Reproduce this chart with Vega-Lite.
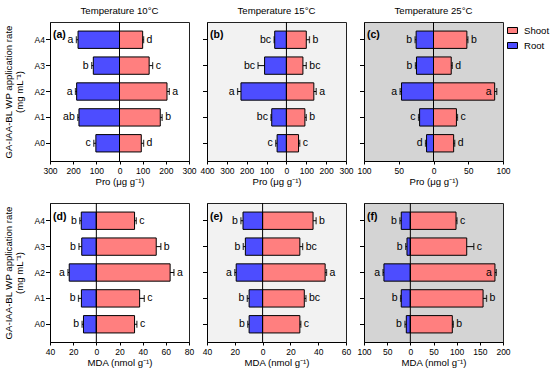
{
  "$schema": "https://vega.github.io/schema/vega-lite/v6.json",
  "padding": {"left": 2, "top": 5, "right": 2, "bottom": 2},
  "datasets": {
    "a": [
      {"rate": "A4", "tissue": "Root", "v": -179, "e": -186, "lab": "a"},
      {"rate": "A4", "tissue": "Shoot", "v": 100, "e": 104, "lab": "d"},
      {"rate": "A3", "tissue": "Root", "v": -113, "e": -120, "lab": "b"},
      {"rate": "A3", "tissue": "Shoot", "v": 128, "e": 143, "lab": "c"},
      {"rate": "A2", "tissue": "Root", "v": -185, "e": -190, "lab": "a"},
      {"rate": "A2", "tissue": "Shoot", "v": 205, "e": 215, "lab": "a"},
      {"rate": "A1", "tissue": "Root", "v": -175, "e": -180, "lab": "ab"},
      {"rate": "A1", "tissue": "Shoot", "v": 176, "e": 184, "lab": "b"},
      {"rate": "A0", "tissue": "Root", "v": -102, "e": -111, "lab": "c"},
      {"rate": "A0", "tissue": "Shoot", "v": 94, "e": 104, "lab": "d"}
    ],
    "b": [
      {"rate": "A4", "tissue": "Root", "v": -59, "e": -62, "lab": "bc"},
      {"rate": "A4", "tissue": "Shoot", "v": 100, "e": 116, "lab": "b"},
      {"rate": "A3", "tissue": "Root", "v": -110, "e": -143, "lab": "bc"},
      {"rate": "A3", "tissue": "Shoot", "v": 83, "e": 100, "lab": "bc"},
      {"rate": "A2", "tissue": "Root", "v": -229, "e": -246, "lab": "a"},
      {"rate": "A2", "tissue": "Shoot", "v": 138, "e": 150, "lab": "a"},
      {"rate": "A1", "tissue": "Root", "v": -74, "e": -78, "lab": "bc"},
      {"rate": "A1", "tissue": "Shoot", "v": 93, "e": 100, "lab": "b"},
      {"rate": "A0", "tissue": "Root", "v": -47, "e": -54, "lab": "c"},
      {"rate": "A0", "tissue": "Shoot", "v": 61, "e": 67, "lab": "c"}
    ],
    "c": [
      {"rate": "A4", "tissue": "Root", "v": -25, "e": -26.5, "lab": "b"},
      {"rate": "A4", "tissue": "Shoot", "v": 48, "e": 49.5, "lab": "b"},
      {"rate": "A3", "tissue": "Root", "v": -24.5, "e": -26, "lab": "b"},
      {"rate": "A3", "tissue": "Shoot", "v": 25.5, "e": 27, "lab": "d"},
      {"rate": "A2", "tissue": "Root", "v": -46, "e": -48, "lab": "a"},
      {"rate": "A2", "tissue": "Shoot", "v": 88, "e": 91, "lab": "a"},
      {"rate": "A1", "tissue": "Root", "v": -20, "e": -21.5, "lab": "c"},
      {"rate": "A1", "tissue": "Shoot", "v": 33, "e": 34.5, "lab": "c"},
      {"rate": "A0", "tissue": "Root", "v": -10, "e": -11.5, "lab": "d"},
      {"rate": "A0", "tissue": "Shoot", "v": 29, "e": 30.5, "lab": "d"}
    ],
    "d": [
      {"rate": "A4", "tissue": "Root", "v": -13, "e": -14.3, "lab": "b"},
      {"rate": "A4", "tissue": "Shoot", "v": 33, "e": 34.5, "lab": "c"},
      {"rate": "A3", "tissue": "Root", "v": -12.6, "e": -15, "lab": "b"},
      {"rate": "A3", "tissue": "Shoot", "v": 51.7, "e": 55.7, "lab": "b"},
      {"rate": "A2", "tissue": "Root", "v": -23.4, "e": -24.5, "lab": "a"},
      {"rate": "A2", "tissue": "Shoot", "v": 63.7, "e": 67, "lab": "a"},
      {"rate": "A1", "tissue": "Root", "v": -12.9, "e": -15.4, "lab": "b"},
      {"rate": "A1", "tissue": "Shoot", "v": 37.4, "e": 41.4, "lab": "c"},
      {"rate": "A0", "tissue": "Root", "v": -11.1, "e": -12.3, "lab": "b"},
      {"rate": "A0", "tissue": "Shoot", "v": 33, "e": 35, "lab": "c"}
    ],
    "e": [
      {"rate": "A4", "tissue": "Root", "v": -14.1, "e": -15.6, "lab": "b"},
      {"rate": "A4", "tissue": "Shoot", "v": 36.3, "e": 38.5, "lab": "b"},
      {"rate": "A3", "tissue": "Root", "v": -12.4, "e": -13.9, "lab": "b"},
      {"rate": "A3", "tissue": "Shoot", "v": 26.8, "e": 28.8, "lab": "bc"},
      {"rate": "A2", "tissue": "Root", "v": -19, "e": -20, "lab": "a"},
      {"rate": "A2", "tissue": "Shoot", "v": 45, "e": 46, "lab": "a"},
      {"rate": "A1", "tissue": "Root", "v": -9.7, "e": -11, "lab": "b"},
      {"rate": "A1", "tissue": "Shoot", "v": 30, "e": 31.2, "lab": "bc"},
      {"rate": "A0", "tissue": "Root", "v": -9.7, "e": -10.7, "lab": "b"},
      {"rate": "A0", "tissue": "Shoot", "v": 26.8, "e": 27.5, "lab": "c"}
    ],
    "f": [
      {"rate": "A4", "tissue": "Root", "v": -19.6, "e": -22.5, "lab": "b"},
      {"rate": "A4", "tissue": "Shoot", "v": 98.6, "e": 100.7, "lab": "c"},
      {"rate": "A3", "tissue": "Root", "v": -7.2, "e": -10, "lab": "b"},
      {"rate": "A3", "tissue": "Shoot", "v": 121.7, "e": 137, "lab": "c"},
      {"rate": "A2", "tissue": "Root", "v": -57, "e": -59, "lab": "a"},
      {"rate": "A2", "tissue": "Shoot", "v": 182.6, "e": 185.5, "lab": "a"},
      {"rate": "A1", "tissue": "Root", "v": -19.6, "e": -21, "lab": "b"},
      {"rate": "A1", "tissue": "Shoot", "v": 157, "e": 164.5, "lab": "b"},
      {"rate": "A0", "tissue": "Root", "v": -8.7, "e": -11.6, "lab": "b"},
      {"rate": "A0", "tissue": "Shoot", "v": 90.6, "e": 92.8, "lab": "b"}
    ]
  },
  "config": {
    "font": "Liberation Sans",
    "view": {"stroke": "#222222", "strokeWidth": 1},
    "axis": {"labelFontSize": 8.5, "titleFontSize": 9.6, "labelColor": "black", "titleColor": "black", "domainColor": "black", "tickColor": "black", "grid": false, "titleFontWeight": "normal", "labelOverlap": false, "labelFlush": false, "labelBound": false},
    "axisQuantitative": {"labelOverlap": false, "labelFlush": false},
    "axisX": {"tickSize": 3, "labelPadding": 2, "titlePadding": 2, "labelOverlap": false},
    "axisY": {"tickSize": 4.5, "labelPadding": 1, "titlePadding": 10, "titleLineHeight": 11},
    "title": {"fontSize": 9.6, "fontWeight": "normal", "offset": 6, "color": "black"},
    "text": {"fontSize": 10.5, "color": "black"}
  },
  "spacing": 15,
  "resolve": {"scale": {"color": "independent"}},
  "vconcat": [
    {
      "hconcat": [
        {
          "width": 139, "height": 139,
          "title": "Temperature 10°C",
          "view": {"fill": "white"},
          "data": {"name": "a"},
          "layer": [
            {"mark": {"type": "bar", "stroke": "black", "strokeWidth": 1}, "encoding": {"y": {"field": "rate", "type": "nominal", "sort": ["A4","A3","A2","A1","A0"], "scale": {"paddingInner": 0.33, "paddingOuter": 0.35}, "axis": {"title": ["GA-IAA-BL WP application rate", "(mg mL⁻¹)"], "labelOverlap": false}}, "x": {"field": "v", "type": "quantitative", "scale": {"domain": [-300, 300], "nice": false}, "axis": {"tickCount": 7, "labelOverlap": false, "labelFlush": false, "labelExpr": "format(abs(datum.value), 'd')", "title": "Pro (μg g⁻¹)"}}, "color": {"field": "tissue", "type": "nominal", "scale": {"domain": ["Shoot","Root"], "range": ["#FF7F7F","#4D4DFF"]}, "legend": null}}},
            {"mark": {"type": "rule", "color": "black"}, "encoding": {"y": {"field": "rate", "type": "nominal", "sort": ["A4","A3","A2","A1","A0"]}, "x": {"field": "v", "type": "quantitative"}, "x2": {"field": "e"}}},
            {"mark": {"type": "tick", "color": "black", "size": 7, "thickness": 1.3}, "encoding": {"y": {"field": "rate", "type": "nominal", "sort": ["A4","A3","A2","A1","A0"]}, "x": {"field": "e", "type": "quantitative"}}},
            {"data": {"values": [{}]}, "mark": {"type": "rule", "color": "black"}, "encoding": {"x": {"datum": 0}}},
            {"transform": [{"filter": "datum.tissue == 'Shoot'"}], "mark": {"type": "text", "align": "left", "dx": 3}, "encoding": {"y": {"field": "rate", "type": "nominal", "sort": ["A4","A3","A2","A1","A0"]}, "x": {"field": "e", "type": "quantitative"}, "text": {"field": "lab"}}},
            {"transform": [{"filter": "datum.tissue == 'Root'"}], "mark": {"type": "text", "align": "right", "dx": -3}, "encoding": {"y": {"field": "rate", "type": "nominal", "sort": ["A4","A3","A2","A1","A0"]}, "x": {"field": "e", "type": "quantitative"}, "text": {"field": "lab"}}},
            {"data": {"values": [{"t": "(a)"}]}, "mark": {"type": "text", "align": "left", "dx": 3, "dy": -5, "fontWeight": "bold", "fontSize": 10.5}, "encoding": {"x": {"datum": -300}, "y": {"datum": "A4", "type": "nominal"}, "text": {"field": "t"}}}
          ]
        },
        {
          "width": 139, "height": 139,
          "title": "Temperature 15°C",
          "view": {"fill": "#F2F2F2"},
          "data": {"name": "b"},
          "layer": [
            {"mark": {"type": "bar", "stroke": "black", "strokeWidth": 1}, "encoding": {"y": {"field": "rate", "type": "nominal", "sort": ["A4","A3","A2","A1","A0"], "scale": {"paddingInner": 0.33, "paddingOuter": 0.35}, "axis": {"title": null, "labels": false}}, "x": {"field": "v", "type": "quantitative", "scale": {"domain": [-400, 300], "nice": false}, "axis": {"tickCount": 7, "labelOverlap": false, "labelFlush": false, "labelExpr": "format(abs(datum.value), 'd')", "title": "Pro (μg g⁻¹)"}}, "color": {"field": "tissue", "type": "nominal", "scale": {"domain": ["Shoot","Root"], "range": ["#FF7F7F","#4D4DFF"]}, "legend": null}}},
            {"mark": {"type": "rule", "color": "black"}, "encoding": {"y": {"field": "rate", "type": "nominal", "sort": ["A4","A3","A2","A1","A0"]}, "x": {"field": "v", "type": "quantitative"}, "x2": {"field": "e"}}},
            {"mark": {"type": "tick", "color": "black", "size": 7, "thickness": 1.3}, "encoding": {"y": {"field": "rate", "type": "nominal", "sort": ["A4","A3","A2","A1","A0"]}, "x": {"field": "e", "type": "quantitative"}}},
            {"data": {"values": [{}]}, "mark": {"type": "rule", "color": "black"}, "encoding": {"x": {"datum": 0}}},
            {"transform": [{"filter": "datum.tissue == 'Shoot'"}], "mark": {"type": "text", "align": "left", "dx": 3}, "encoding": {"y": {"field": "rate", "type": "nominal", "sort": ["A4","A3","A2","A1","A0"]}, "x": {"field": "e", "type": "quantitative"}, "text": {"field": "lab"}}},
            {"transform": [{"filter": "datum.tissue == 'Root'"}], "mark": {"type": "text", "align": "right", "dx": -3}, "encoding": {"y": {"field": "rate", "type": "nominal", "sort": ["A4","A3","A2","A1","A0"]}, "x": {"field": "e", "type": "quantitative"}, "text": {"field": "lab"}}},
            {"data": {"values": [{"t": "(b)"}]}, "mark": {"type": "text", "align": "left", "dx": 3, "dy": -5, "fontWeight": "bold", "fontSize": 10.5}, "encoding": {"x": {"datum": -400}, "y": {"datum": "A4", "type": "nominal"}, "text": {"field": "t"}}}
          ]
        },
        {
          "width": 139, "height": 139,
          "title": "Temperature 25°C",
          "view": {"fill": "#D4D4D4"},
          "data": {"name": "c"},
          "layer": [
            {"mark": {"type": "bar", "stroke": "black", "strokeWidth": 1}, "encoding": {"y": {"field": "rate", "type": "nominal", "sort": ["A4","A3","A2","A1","A0"], "scale": {"paddingInner": 0.33, "paddingOuter": 0.35}, "axis": {"title": null, "labels": false}}, "x": {"field": "v", "type": "quantitative", "scale": {"domain": [-100, 100], "nice": false}, "axis": {"tickCount": 4, "labelOverlap": false, "labelFlush": false, "labelExpr": "format(abs(datum.value), 'd')", "title": "Pro (μg g⁻¹)"}}, "color": {"field": "tissue", "type": "nominal", "scale": {"domain": ["Shoot","Root"], "range": ["#FF7F7F","#4D4DFF"]}, "legend": {"orient": "none", "legendX": 143, "legendY": 3, "title": null, "symbolType": "M-1,-0.6H1V0.6H-1Z", "symbolSize": 100, "symbolStrokeColor": "black", "symbolStrokeWidth": 1, "labelFontSize": 9.6, "labelColor": "black", "rowPadding": 4, "padding": 0, "labelOffset": 6}}}},
            {"mark": {"type": "rule", "color": "black"}, "encoding": {"y": {"field": "rate", "type": "nominal", "sort": ["A4","A3","A2","A1","A0"]}, "x": {"field": "v", "type": "quantitative"}, "x2": {"field": "e"}}},
            {"mark": {"type": "tick", "color": "black", "size": 7, "thickness": 1.3}, "encoding": {"y": {"field": "rate", "type": "nominal", "sort": ["A4","A3","A2","A1","A0"]}, "x": {"field": "e", "type": "quantitative"}}},
            {"data": {"values": [{}]}, "mark": {"type": "rule", "color": "black"}, "encoding": {"x": {"datum": 0}}},
            {"transform": [{"filter": "datum.tissue == 'Shoot' && datum.e < 80"}], "mark": {"type": "text", "align": "left", "dx": 3}, "encoding": {"y": {"field": "rate", "type": "nominal", "sort": ["A4","A3","A2","A1","A0"]}, "x": {"field": "e", "type": "quantitative"}, "text": {"field": "lab"}}},
            {"transform": [{"filter": "datum.tissue == 'Shoot' && datum.e >= 80"}], "mark": {"type": "text", "align": "right", "dx": -3}, "encoding": {"y": {"field": "rate", "type": "nominal", "sort": ["A4","A3","A2","A1","A0"]}, "x": {"field": "v", "type": "quantitative"}, "text": {"field": "lab"}}},
            {"transform": [{"filter": "datum.tissue == 'Root'"}], "mark": {"type": "text", "align": "right", "dx": -3}, "encoding": {"y": {"field": "rate", "type": "nominal", "sort": ["A4","A3","A2","A1","A0"]}, "x": {"field": "e", "type": "quantitative"}, "text": {"field": "lab"}}},
            {"data": {"values": [{"t": "(c)"}]}, "mark": {"type": "text", "align": "left", "dx": 3, "dy": -5, "fontWeight": "bold", "fontSize": 10.5}, "encoding": {"x": {"datum": -100}, "y": {"datum": "A4", "type": "nominal"}, "text": {"field": "t"}}}
          ]
        }
      ],
      "spacing": 18,
      "bounds": "flush",
      "resolve": {"scale": {"color": "independent"}}
    },
    {
      "hconcat": [
        {
          "width": 139, "height": 139,
          "view": {"fill": "white"},
          "data": {"name": "d"},
          "layer": [
            {"mark": {"type": "bar", "stroke": "black", "strokeWidth": 1}, "encoding": {"y": {"field": "rate", "type": "nominal", "sort": ["A4","A3","A2","A1","A0"], "scale": {"paddingInner": 0.33, "paddingOuter": 0.35}, "axis": {"title": ["GA-IAA-BL WP application rate", "(mg mL⁻¹)"], "labelOverlap": false}}, "x": {"field": "v", "type": "quantitative", "scale": {"domain": [-40, 80], "nice": false}, "axis": {"tickCount": 6, "labelOverlap": false, "labelFlush": false, "labelExpr": "format(abs(datum.value), 'd')", "title": "MDA (nmol g⁻¹)"}}, "color": {"field": "tissue", "type": "nominal", "scale": {"domain": ["Shoot","Root"], "range": ["#FF7F7F","#4D4DFF"]}, "legend": null}}},
            {"mark": {"type": "rule", "color": "black"}, "encoding": {"y": {"field": "rate", "type": "nominal", "sort": ["A4","A3","A2","A1","A0"]}, "x": {"field": "v", "type": "quantitative"}, "x2": {"field": "e"}}},
            {"mark": {"type": "tick", "color": "black", "size": 7, "thickness": 1.3}, "encoding": {"y": {"field": "rate", "type": "nominal", "sort": ["A4","A3","A2","A1","A0"]}, "x": {"field": "e", "type": "quantitative"}}},
            {"data": {"values": [{}]}, "mark": {"type": "rule", "color": "black"}, "encoding": {"x": {"datum": 0}}},
            {"transform": [{"filter": "datum.tissue == 'Shoot'"}], "mark": {"type": "text", "align": "left", "dx": 3}, "encoding": {"y": {"field": "rate", "type": "nominal", "sort": ["A4","A3","A2","A1","A0"]}, "x": {"field": "e", "type": "quantitative"}, "text": {"field": "lab"}}},
            {"transform": [{"filter": "datum.tissue == 'Root'"}], "mark": {"type": "text", "align": "right", "dx": -3}, "encoding": {"y": {"field": "rate", "type": "nominal", "sort": ["A4","A3","A2","A1","A0"]}, "x": {"field": "e", "type": "quantitative"}, "text": {"field": "lab"}}},
            {"data": {"values": [{"t": "(d)"}]}, "mark": {"type": "text", "align": "left", "dx": 3, "dy": -4, "fontWeight": "bold", "fontSize": 10.5}, "encoding": {"x": {"datum": -40}, "y": {"datum": "A4", "type": "nominal"}, "text": {"field": "t"}}}
          ]
        },
        {
          "width": 139, "height": 139,
          "view": {"fill": "#F2F2F2"},
          "data": {"name": "e"},
          "layer": [
            {"mark": {"type": "bar", "stroke": "black", "strokeWidth": 1}, "encoding": {"y": {"field": "rate", "type": "nominal", "sort": ["A4","A3","A2","A1","A0"], "scale": {"paddingInner": 0.33, "paddingOuter": 0.35}, "axis": {"title": null, "labels": false}}, "x": {"field": "v", "type": "quantitative", "scale": {"domain": [-40, 60], "nice": false}, "axis": {"tickCount": 5, "labelOverlap": false, "labelFlush": false, "labelExpr": "format(abs(datum.value), 'd')", "title": "MDA (nmol g⁻¹)"}}, "color": {"field": "tissue", "type": "nominal", "scale": {"domain": ["Shoot","Root"], "range": ["#FF7F7F","#4D4DFF"]}, "legend": null}}},
            {"mark": {"type": "rule", "color": "black"}, "encoding": {"y": {"field": "rate", "type": "nominal", "sort": ["A4","A3","A2","A1","A0"]}, "x": {"field": "v", "type": "quantitative"}, "x2": {"field": "e"}}},
            {"mark": {"type": "tick", "color": "black", "size": 7, "thickness": 1.3}, "encoding": {"y": {"field": "rate", "type": "nominal", "sort": ["A4","A3","A2","A1","A0"]}, "x": {"field": "e", "type": "quantitative"}}},
            {"data": {"values": [{}]}, "mark": {"type": "rule", "color": "black"}, "encoding": {"x": {"datum": 0}}},
            {"transform": [{"filter": "datum.tissue == 'Shoot'"}], "mark": {"type": "text", "align": "left", "dx": 3}, "encoding": {"y": {"field": "rate", "type": "nominal", "sort": ["A4","A3","A2","A1","A0"]}, "x": {"field": "e", "type": "quantitative"}, "text": {"field": "lab"}}},
            {"transform": [{"filter": "datum.tissue == 'Root'"}], "mark": {"type": "text", "align": "right", "dx": -3}, "encoding": {"y": {"field": "rate", "type": "nominal", "sort": ["A4","A3","A2","A1","A0"]}, "x": {"field": "e", "type": "quantitative"}, "text": {"field": "lab"}}},
            {"data": {"values": [{"t": "(e)"}]}, "mark": {"type": "text", "align": "left", "dx": 3, "dy": -4, "fontWeight": "bold", "fontSize": 10.5}, "encoding": {"x": {"datum": -40}, "y": {"datum": "A4", "type": "nominal"}, "text": {"field": "t"}}}
          ]
        },
        {
          "width": 139, "height": 139,
          "view": {"fill": "#D4D4D4"},
          "data": {"name": "f"},
          "layer": [
            {"mark": {"type": "bar", "stroke": "black", "strokeWidth": 1}, "encoding": {"y": {"field": "rate", "type": "nominal", "sort": ["A4","A3","A2","A1","A0"], "scale": {"paddingInner": 0.33, "paddingOuter": 0.35}, "axis": {"title": null, "labels": false}}, "x": {"field": "v", "type": "quantitative", "scale": {"domain": [-100, 200], "nice": false}, "axis": {"tickCount": 6, "labelOverlap": false, "labelFlush": false, "labelExpr": "format(abs(datum.value), 'd')", "title": "MDA (nmol g⁻¹)"}}, "color": {"field": "tissue", "type": "nominal", "scale": {"domain": ["Shoot","Root"], "range": ["#FF7F7F","#4D4DFF"]}, "legend": null}}},
            {"mark": {"type": "rule", "color": "black"}, "encoding": {"y": {"field": "rate", "type": "nominal", "sort": ["A4","A3","A2","A1","A0"]}, "x": {"field": "v", "type": "quantitative"}, "x2": {"field": "e"}}},
            {"mark": {"type": "tick", "color": "black", "size": 7, "thickness": 1.3}, "encoding": {"y": {"field": "rate", "type": "nominal", "sort": ["A4","A3","A2","A1","A0"]}, "x": {"field": "e", "type": "quantitative"}}},
            {"data": {"values": [{}]}, "mark": {"type": "rule", "color": "black"}, "encoding": {"x": {"datum": 0}}},
            {"transform": [{"filter": "datum.tissue == 'Shoot' && datum.e < 175"}], "mark": {"type": "text", "align": "left", "dx": 3}, "encoding": {"y": {"field": "rate", "type": "nominal", "sort": ["A4","A3","A2","A1","A0"]}, "x": {"field": "e", "type": "quantitative"}, "text": {"field": "lab"}}},
            {"transform": [{"filter": "datum.tissue == 'Shoot' && datum.e >= 175"}], "mark": {"type": "text", "align": "right", "dx": -3}, "encoding": {"y": {"field": "rate", "type": "nominal", "sort": ["A4","A3","A2","A1","A0"]}, "x": {"field": "v", "type": "quantitative"}, "text": {"field": "lab"}}},
            {"transform": [{"filter": "datum.tissue == 'Root'"}], "mark": {"type": "text", "align": "right", "dx": -3}, "encoding": {"y": {"field": "rate", "type": "nominal", "sort": ["A4","A3","A2","A1","A0"]}, "x": {"field": "e", "type": "quantitative"}, "text": {"field": "lab"}}},
            {"data": {"values": [{"t": "(f)"}]}, "mark": {"type": "text", "align": "left", "dx": 3, "dy": -4, "fontWeight": "bold", "fontSize": 10.5}, "encoding": {"x": {"datum": -100}, "y": {"datum": "A4", "type": "nominal"}, "text": {"field": "t"}}}
          ]
        }
      ],
      "spacing": 18,
      "bounds": "flush",
      "resolve": {"scale": {"color": "independent"}}
    }
  ]
}
